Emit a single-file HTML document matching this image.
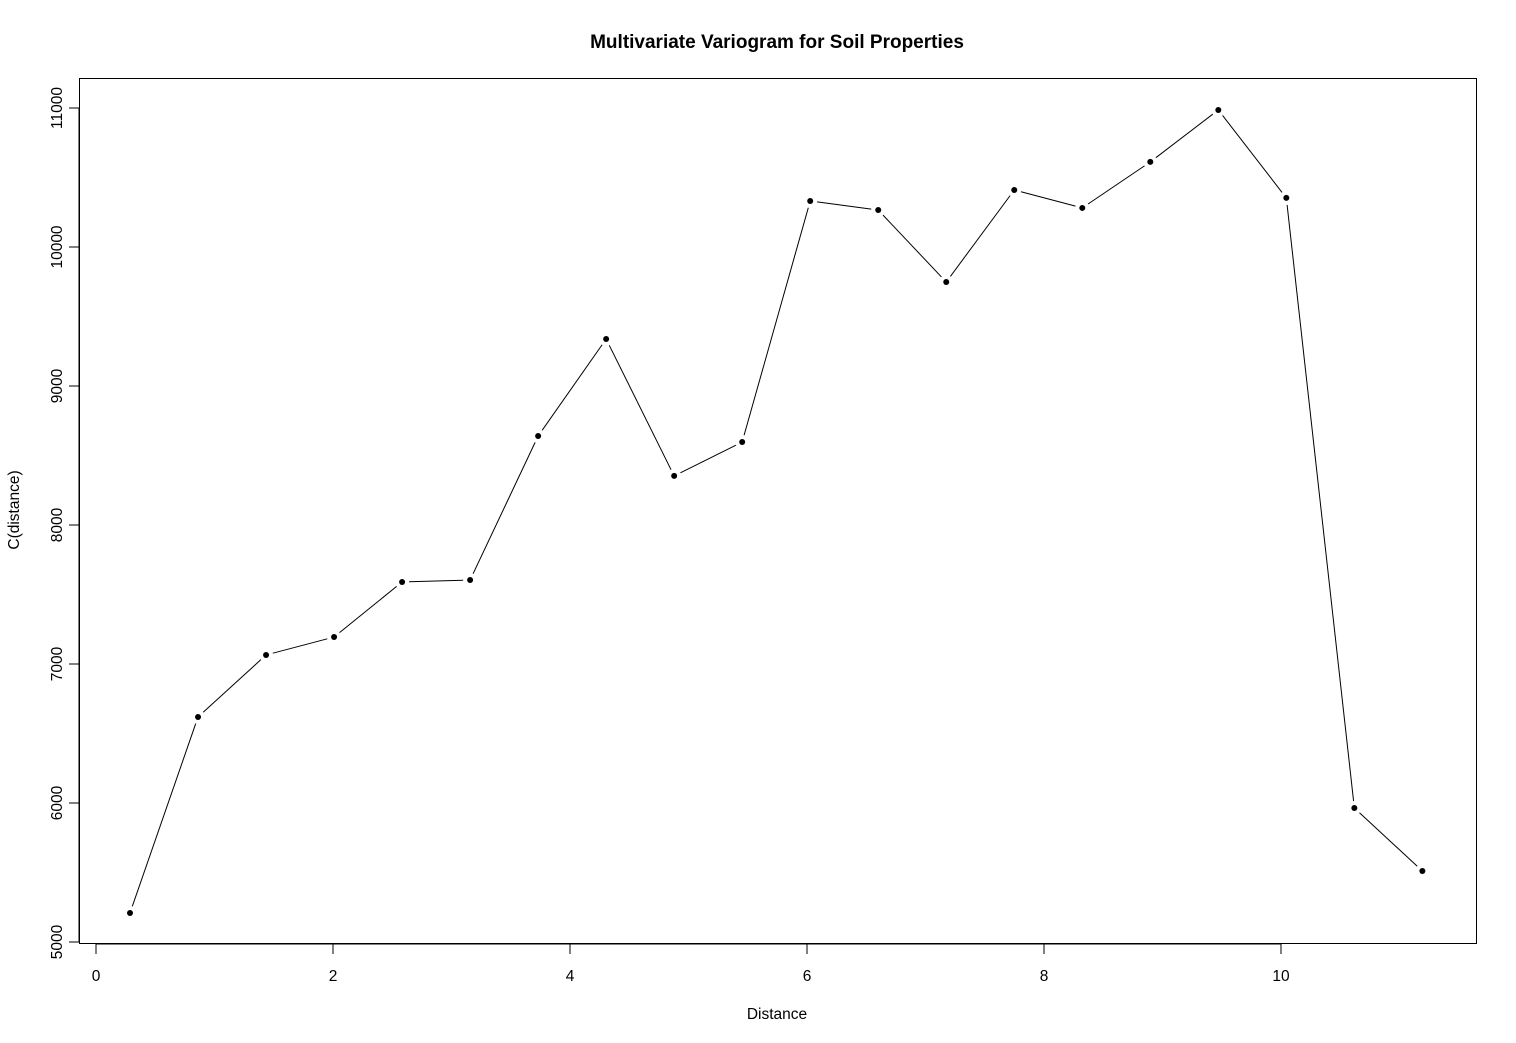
<!DOCTYPE html>
<html><head><meta charset="utf-8"><style>
body{margin:0;background:#fff}
svg{display:block;font-family:"Liberation Sans",Arial,sans-serif}
</style></head><body>
<svg id="chart" width="1516" height="1043">
<text x="777" y="48" text-anchor="middle" font-size="19" font-weight="bold">Multivariate Variogram for Soil Properties</text>
<rect x="79.5" y="78.5" width="1397" height="865" fill="none" stroke="#000" stroke-width="1"/>
<text x="777" y="1019" text-anchor="middle" font-size="15.5">Distance</text>
<text transform="translate(19,510) rotate(-90)" text-anchor="middle" font-size="15.5">C(distance)</text>
<g id="axes"></g>
<g id="marks"></g>
</svg>
<script>
const xValues=[0.287,0.861,1.435,2.009,2.583,3.157,3.731,4.305,4.879,5.453,6.027,6.601,7.175,7.749,8.323,8.897,9.471,10.045,10.619,11.193];
const yValues=[5209,6619,7065,7194,7590,7604,8640,9338,8353,8597,10331,10266,9748,10410,10281,10612,10986,10353,5964,5511];
const xTicks=[0,2,4,6,8,10];
const yTicks=[5000,6000,7000,8000,9000,10000,11000];
const NS='http://www.w3.org/2000/svg';
function sx(v){return 96+v*118.5;}
function sy(v){return 942-(v-5000)*0.139;}
function mk(t,a){const e=document.createElementNS(NS,t);for(const k in a)e.setAttribute(k,a[k]);return e;}
const axes=document.getElementById('axes'),marks=document.getElementById('marks');
const xl=mk('line',{x1:sx(xTicks[0]),x2:sx(xTicks[xTicks.length-1]),y1:944,y2:944,stroke:'#000'});


axes.appendChild(xl);
xTicks.forEach(v=>{
 const l=mk('line',{x1:sx(v),x2:sx(v),y1:944,y2:954,stroke:'#000'});
 
 
 axes.appendChild(l);
 const t=mk('text',{x:sx(v),y:981,'text-anchor':'middle','font-size':15.5});
 
 
 t.textContent=v;axes.appendChild(t);
});
const yl=mk('line',{x1:79,x2:79,y1:sy(yTicks[0]),y2:sy(yTicks[yTicks.length-1]),stroke:'#000'});


axes.appendChild(yl);
yTicks.forEach(v=>{
 const l=mk('line',{x1:69,x2:79,y1:sy(v),y2:sy(v),stroke:'#000'});
 
 
 axes.appendChild(l);
 const t=mk('text',{transform:`translate(62,${sy(v)}) rotate(-90)`,'text-anchor':'middle','font-size':15.5});
 
 
 t.textContent=v;axes.appendChild(t);
});
for(let i=0;i<xValues.length-1;i++){
 const x1=sx(xValues[i]),y1=sy(yValues[i]),x2=sx(xValues[i+1]),y2=sy(yValues[i+1]);
 const d=Math.hypot(x2-x1,y2-y1),g=7,ux=(x2-x1)/d,uy=(y2-y1)/d;
 const l=mk('line',{x1:x1+ux*g,y1:y1+uy*g,x2:x2-ux*g,y2:y2-uy*g,stroke:'#000','stroke-width':1});
 
 
 marks.appendChild(l);
}
xValues.forEach((v,i)=>{
 const c=mk('circle',{cx:sx(v),cy:sy(yValues[i]),r:3,fill:'#000'});
 
 
 marks.appendChild(c);
});
</script>
</body></html>
